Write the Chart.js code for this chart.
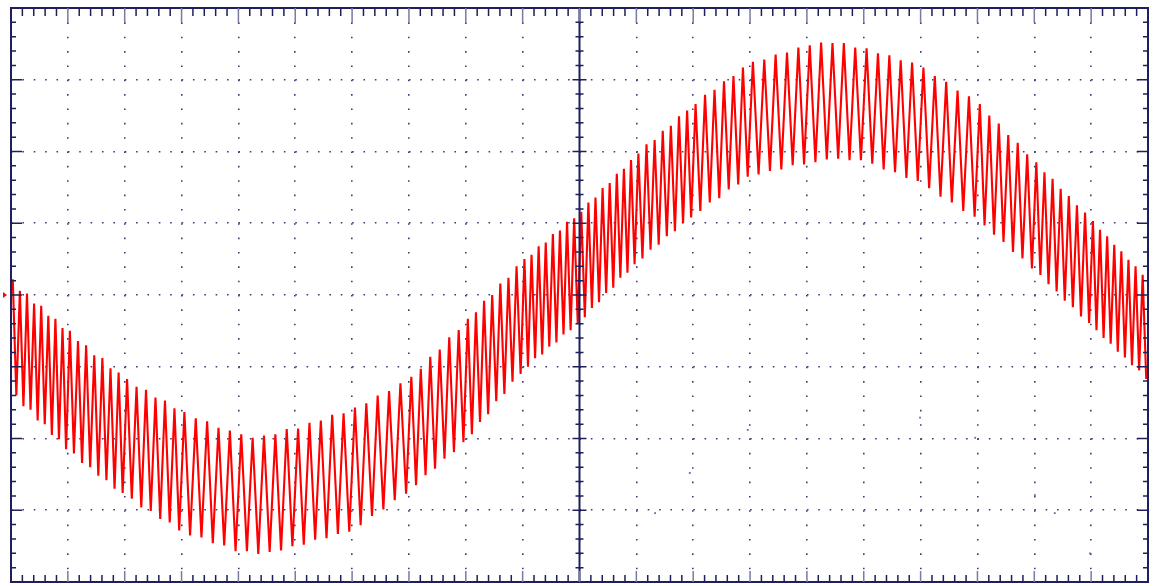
<!DOCTYPE html>
<html lang="en">
<head>
<meta charset="utf-8">
<title>Scope trace</title>
<script src="https://cdn.jsdelivr.net/npm/chart.js@4.4.1/dist/chart.umd.min.js"></script>
<style>
  html, body { margin: 0; padding: 0; background: #fff; }
  #wrap { width: 1156px; height: 586px; }
</style>
</head>
<body>
<div id="wrap"><canvas id="scope" width="1156" height="586"></canvas></div>
<script>
// ripple cycles counted in each of the 20 horizontal divisions
const cyclesPerDiv = [8, 7, 6, 5, 5, 5, 5, 6, 7, 8, 8, 7, 6, 5, 5, 5, 5, 6, 7, 8];

// upper edge of each ripple cycle (divisions, 0 = centre line)
const rippleTops = [
  0.22, 0.06, 0.02, -0.12, -0.15, -0.29, -0.33, -0.46,
  -0.50, -0.64, -0.70, -0.84, -0.88, -1.02, -1.08,
  -1.17, -1.28, -1.32, -1.43, -1.47, -1.58,
  -1.63, -1.72, -1.76, -1.85, -1.89,
  -1.94, -1.99, -1.96, -1.94, -1.87,
  -1.86, -1.78, -1.75, -1.67, -1.65,
  -1.57, -1.51, -1.40, -1.34, -1.23,
  -1.14, -1.03, -0.86, -0.76, -0.59, -0.49,
  -0.33, -0.24, -0.08, 0.00, 0.16, 0.24, 0.40,
  0.50, 0.56, 0.68, 0.73, 0.85, 0.90, 1.02, 1.07,
  1.16, 1.29, 1.36, 1.49, 1.56, 1.69, 1.76, 1.88,
  1.97, 2.10, 2.16, 2.29, 2.36, 2.49, 2.57,
  2.66, 2.79, 2.86, 2.98, 3.05, 3.17,
  3.25, 3.28, 3.35, 3.38, 3.45,
  3.48, 3.52, 3.51, 3.51, 3.45,
  3.44, 3.37, 3.34, 3.27, 3.24,
  3.17, 3.05, 2.97, 2.85, 2.77,
  2.66, 2.50, 2.39, 2.23, 2.12, 1.96,
  1.85, 1.71, 1.62, 1.48, 1.38, 1.25, 1.15,
  1.03, 0.91, 0.82, 0.70, 0.61, 0.49, 0.40, 0.28
];

// lower edge of each ripple cycle
const rippleBottoms = [
  -1.40, -1.55, -1.60, -1.75, -1.80, -1.95, -2.01, -2.15,
  -2.21, -2.34, -2.40, -2.52, -2.58, -2.70, -2.76,
  -2.84, -2.96, -3.01, -3.12, -3.17, -3.28,
  -3.35, -3.38, -3.46, -3.49, -3.57,
  -3.57, -3.61, -3.58, -3.56, -3.50,
  -3.48, -3.41, -3.39, -3.33, -3.30,
  -3.21, -3.08, -2.99, -2.86, -2.77,
  -2.65, -2.51, -2.42, -2.28, -2.19, -2.05,
  -1.94, -1.77, -1.66, -1.48, -1.38, -1.21, -1.10,
  -1.00, -0.88, -0.83, -0.72, -0.66, -0.55, -0.49, -0.39,
  -0.31, -0.18, -0.10, 0.03, 0.10, 0.24, 0.31, 0.43,
  0.51, 0.63, 0.70, 0.82, 0.89, 1.00, 1.08,
  1.17, 1.29, 1.35, 1.47, 1.54, 1.65,
  1.68, 1.73, 1.75, 1.81, 1.82,
  1.85, 1.89, 1.90, 1.88, 1.88,
  1.83, 1.75, 1.71, 1.63, 1.59,
  1.49, 1.37, 1.29, 1.17, 1.09,
  0.97, 0.84, 0.74, 0.60, 0.51, 0.37,
  0.28, 0.15, 0.05, -0.08, -0.17, -0.30, -0.39,
  -0.49, -0.60, -0.68, -0.79, -0.87, -0.98, -1.05, -1.17
];

// stray specks left on the screen (divisions)
const speckX = [12.96, 15.99, 16.96, 11.94, 11.33, 18.01, 18.36, 18.98];
const speckY = [-1.88, -1.71, -1.99, -2.48, -3.04, -2.79, -3.04, -3.60];

// place each cycle's top and bottom inside its division
const trace = [];
let c = 0;
cyclesPerDiv.forEach((n, d) => {
  for (let k = 0; k < n; k++) {
    trace.push({ x: d + (k + 0.25) / n, y: rippleTops[c] });
    trace.push({ x: d + (k + 0.75) / n, y: rippleBottoms[c] });
    c++;
  }
});
const specks = speckX.map((x, i) => ({ x, y: speckY[i] }));

const navy = '#1f1f5c';

// frame, tick marks and centre line like the scope graticule
const graticule = {
  id: 'graticule',
  afterDatasetsDraw(chart) {
    const { ctx, chartArea: a, scales: { x, y } } = chart;
    ctx.save();
    ctx.strokeStyle = navy;
    ctx.lineWidth = 2;
    ctx.strokeRect(a.left, a.top, a.right - a.left, a.bottom - a.top);
    const cx = x.getPixelForValue(10);
    ctx.beginPath();
    ctx.moveTo(cx, a.top);
    ctx.lineTo(cx, a.bottom);
    ctx.stroke();

    ctx.lineWidth = 1.5;
    for (let i = 1; i < 100; i++) {
      const px = x.getPixelForValue(i / 5);
      const major = i % 5 === 0;
      ctx.strokeStyle = major ? '#7a7aa6' : navy;
      ctx.beginPath();
      ctx.moveTo(px, a.top);
      ctx.lineTo(px, a.top + (major ? 15 : 8));
      ctx.moveTo(px, a.bottom);
      ctx.lineTo(px, a.bottom - (major ? 11 : 7));
      ctx.stroke();
    }
    for (let i = 1; i < 40; i++) {
      const py = y.getPixelForValue(-4 + i / 5);
      const major = i % 5 === 0;
      ctx.strokeStyle = navy;
      ctx.beginPath();
      ctx.moveTo(a.left, py);
      ctx.lineTo(a.left + (major ? 11 : 5), py);
      ctx.moveTo(a.right, py);
      ctx.lineTo(a.right - (major ? 11 : 5), py);
      ctx.moveTo(cx - (major ? 7 : 4), py);
      ctx.lineTo(cx + (major ? 7 : 4), py);
      ctx.stroke();
    }

    // ground marker on the left
    const gy = y.getPixelForValue(0);
    ctx.fillStyle = '#ff0000';
    ctx.beginPath();
    ctx.moveTo(3, gy - 3);
    ctx.lineTo(7, gy);
    ctx.lineTo(3, gy + 3);
    ctx.closePath();
    ctx.fill();
    ctx.restore();
  }
};

new Chart(document.getElementById('scope'), {
  type: 'line',
  data: {
    datasets: [{
      data: trace,
      borderColor: '#ff0000',
      borderWidth: 2.1,
      pointRadius: 0,
      tension: 0,
      fill: false
    }, {
      data: specks,
      showLine: false,
      pointStyle: 'rect',
      pointRadius: 1.3,
      pointBorderWidth: 0,
      pointBackgroundColor: '#6a6aa8'
    }]
  },
  options: {
    responsive: false,
    animation: false,
    layout: { padding: { left: 11, top: 8, right: 8, bottom: 4 } },
    plugins: { legend: { display: false }, tooltip: { enabled: false } },
    scales: {
      x: {
        type: 'linear', min: 0, max: 20,
        ticks: { display: false, stepSize: 1 },
        grid: { color: '#3d3d7a', lineWidth: 1.6, drawTicks: false },
        border: { display: false, dash: [1.6, 12.75] }
      },
      y: {
        type: 'linear', min: -4, max: 4,
        ticks: { display: false, stepSize: 1 },
        grid: { color: '#3d3d7a', lineWidth: 1.6, drawTicks: false },
        border: { display: false, dash: [1.6, 9.77] }
      }
    }
  },
  plugins: [graticule]
});
</script>
</body>
</html>
